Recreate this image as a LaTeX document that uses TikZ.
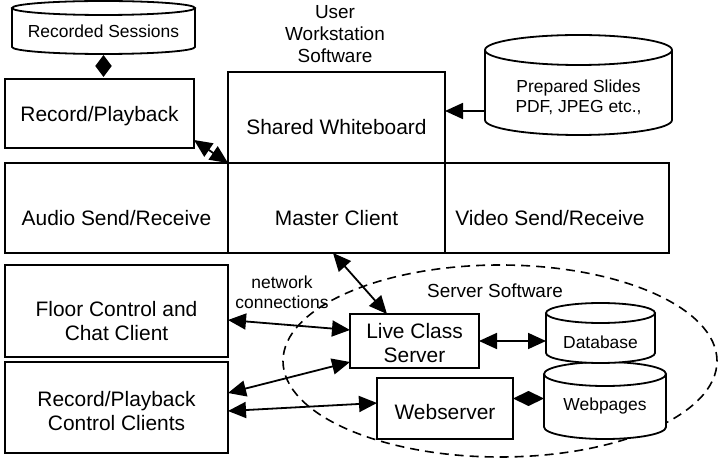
\documentclass[tikz,border=0pt]{standalone}
\usepackage{fontspec}
\setmainfont{Liberation Sans}
\usetikzlibrary{arrows.meta,shapes.geometric,calc}
\newcommand\mycyl[5]{%
  \fill[white] (#1,-#3) -- (#1,-#4) arc[start angle=180,end angle=360,x radius={(#2-#1)/2},y radius=#5] -- (#2,-#3) -- cycle;
  \draw[cylst] (#1,-#3) -- (#1,-#4) arc[start angle=180,end angle=360,x radius={(#2-#1)/2},y radius=#5] -- (#2,-#3);
  \draw[cylst,fill=white] ({(#1+#2)/2},-#3) ellipse [x radius={(#2-#1)/2}, y radius=#5];
}
\begin{document}
\begin{tikzpicture}[x=1bp,y=1bp,
  box/.style={draw, line width=2.4bp, inner sep=0pt, outer sep=0pt},
  lbl/.style={font=\fontsize{21}{24}\selectfont, align=center, inner sep=0pt},
  sml/.style={font=\fontsize{17.5}{20}\selectfont, align=center, inner sep=0pt, outer sep=0pt},
  hdr/.style={font=\fontsize{19}{22}\selectfont, align=center, inner sep=0pt},
  cylst/.style={line width=1.8bp},
  conn/.style={line width=1.8bp, {Triangle[length=18bp,width=16bp]}-{Triangle[length=18bp,width=16bp]}},
  oneway/.style={line width=1.8bp, -{Triangle[length=18bp,width=16bp]}},
  halfd/.style={line width=1.6bp, -{Triangle[length=#1,width=16bp]}},
  srvst/.style={draw, ellipse, line width=1.6bp, dash pattern=on 9bp off 6bp, inner sep=0pt}
]
\useasboundingbox (0,0) rectangle (720,-458);

% server software region
\node[srvst, minimum width=434bp, minimum height=192bp] (srv) at (500,-361) {};
\node[hdr] (srvt) at (495,-291) {Server Software};

% cylinders
\mycyl{12}{195}{8}{47}{7}
\node[sml, minimum width=183bp, minimum height=46bp] (rs) at (103.5,-31) {Recorded Sessions};
\mycyl{485}{672}{50}{120}{15}
\node[sml, minimum width=187bp] (slides) at (578.5,-97) {Prepared Slides\\PDF, JPEG etc.,};
\mycyl{544}{666}{374}{427}{12}
\node[sml, minimum width=122bp] (wp) at (605,-406) {Webpages};
\mycyl{546}{655}{313}{353}{10}
\node[sml, minimum width=109bp] (db) at (600.5,-342) {Database};

% header
\node[hdr] (uws) at (335,-34) {User\\Workstation\\Software};

% boxes
\node[box, minimum width=189bp, minimum height=69bp] (rp) at (99.5,-113.5) {};
\node[lbl] (rpt) at (99.5,-116) {Record/Playback};
\node[box, minimum width=217bp, minimum height=91bp] (wb) at (336.5,-117.5) {};
\node[lbl] (wbt) at (336.5,-127) {Shared Whiteboard};
\node[box, minimum width=223bp, minimum height=90bp] (audio) at (116.5,-208) {};
\node[lbl] (audiot) at (116.5,-218) {Audio Send/Receive};
\node[box, minimum width=217bp, minimum height=90bp] (master) at (336.5,-208) {};
\node[lbl] (mastert) at (336.5,-218) {Master Client};
\node[box, minimum width=224bp, minimum height=90bp] (video) at (557,-208) {};
\node[lbl] (videot) at (550,-218) {Video Send/Receive};
\node[box, minimum width=223bp, minimum height=92bp] (fc) at (116.5,-311) {};
\node[lbl] (fct) at (116.5,-321) {Floor Control and\\Chat Client};
\node[box, minimum width=223bp, minimum height=91bp] (rpcc) at (116.5,-407.5) {};
\node[lbl] (rpcct) at (116.5,-411) {Record/Playback\\Control Clients};
\node[box, minimum width=129bp, minimum height=54bp] (lcs) at (414.5,-341) {};
\node[lbl] (lcst) at (414.5,-343) {Live Class\\Server};
\node[box, minimum width=136bp, minimum height=61bp] (web) at (445,-408.5) {};
\node[lbl] (webt) at (445,-412) {Webserver};

\node[sml] (netw) at (282,-292) {network\\connections};

% connectors
\coordinate (rsmid) at ($(rs.south)!0.5!(rs.south |- rp.north)$);
\draw[halfd=11bp] (rsmid) -- ([yshift=-1bp]rs.south);
\draw[halfd=11bp] (rsmid) -- ([yshift=2bp]rs.south |- rp.north);
\draw[conn] ([yshift=8bp]rp.south east) -- (master.north west);
\draw[oneway] ([yshift=-14bp]slides.west) -- ([yshift=-14bp]slides.west -| wb.east);
\draw[conn] ([xshift=-3.5bp]master.south) -- ([xshift=-27.5bp]lcs.north);
\draw[conn] ([yshift=-9bp]fc.east) -- ([yshift=11bp]lcs.west);
\draw[conn] ([yshift=14.5bp]rpcc.east) -- ([yshift=-21bp]lcs.west);
\draw[conn] ([yshift=-3.5bp]rpcc.east) -- ([yshift=5.5bp]web.west);
\draw[conn] (lcs.east) -- (lcs.east -| db.west);
\coordinate (wwa) at ([yshift=10bp]web.east);
\coordinate (wwb) at ([yshift=10bp]web.east -| wp.west);
\coordinate (wwmid) at ($(wwa)!0.5!(wwb)$);
\fill (wwa) -- ([yshift=7.5bp]wwmid) -- (wwb) -- ([yshift=-7.5bp]wwmid) -- cycle;
\end{tikzpicture}
\end{document}
